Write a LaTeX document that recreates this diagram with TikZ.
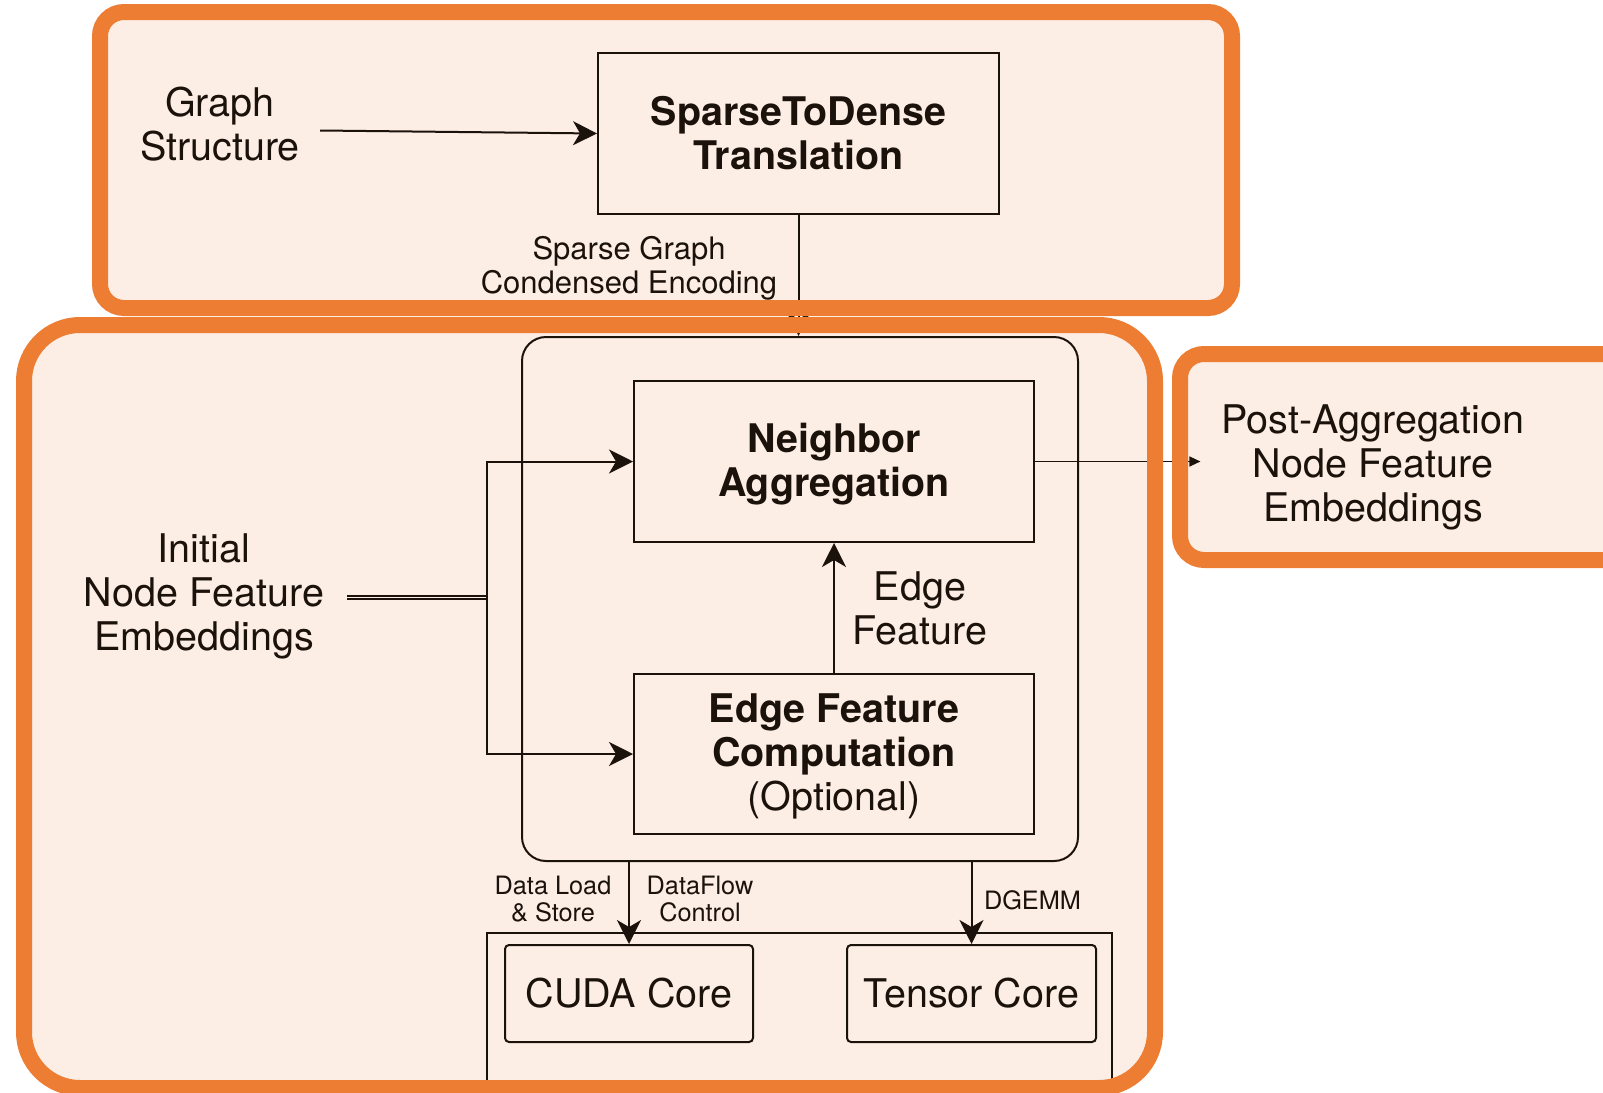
\documentclass[tikz,border=0pt]{standalone}
\usepackage{fontspec}
\setmainfont{TeX Gyre Heros}
\usetikzlibrary{arrows.meta,calc}
\definecolor{frameorange}{RGB}{237,125,50}
\definecolor{peach}{RGB}{252,238,229}
\definecolor{ink}{RGB}{28,18,12}
\tikzset{
  bigtxt/.style={font=\fontsize{39.5}{44}\selectfont, text=ink, align=center, inner sep=0pt},
  midtxt/.style={font=\fontsize{31}{34}\selectfont, text=ink, align=center, inner sep=0pt},
  smalltxt/.style={font=\fontsize{25.3}{27}\selectfont, text=ink, align=center, inner sep=0pt},
  blockbox/.style={draw=ink, line width=2pt, inner sep=0pt, align=center, text=ink},
  arr/.style={draw=ink, line width=2pt, -{Stealth[length=24pt,width=24pt,inset=7pt]}},
  thinarr/.style={draw=ink, line width=1.5pt, -{Triangle[length=11pt,width=10pt]}},
  dbl/.style={draw=ink, line width=2.1pt, double=peach, double distance=0.8pt},
  frame/.style={draw=frameorange, line width=16pt},
}
% extra height on a first line, to centre multi-line box text on its capitals
\newcommand{\capstrut}{\rule{0pt}{34.5pt}}
\begin{document}
\begin{tikzpicture}[x=1pt,y=-1pt]
\useasboundingbox (0,0) rectangle (1603,1092);
\clip (0,0) rectangle (1603,1092);

% panel backgrounds
\fill[peach, rounded corners=24pt] (100,12) rectangle (1232,308);
\fill[peach, rounded corners=56pt] (24,325) rectangle (1155,1088);
\fill[peach, rounded corners=24pt] (1180,354) rectangle (1640,560);

% preprocessing stage
\node[bigtxt, anchor=north] (gs) at (220,87) {Graph\\Structure};
\node[blockbox, font=\fontsize{39.4}{44}\selectfont\bfseries,
      minimum width=401pt, minimum height=161pt] (sd) at (798.5,133.5)
      {SparseToDense\\Translation};
\node[midtxt, anchor=north] (sgce) at (629,236) {Sparse Graph\\Condensed Encoding};

% aggregation kernel
\node[draw=ink, line width=2pt, rounded corners=24pt,
      minimum width=556pt, minimum height=524pt] (proc) at (800,599) {};
\node[blockbox, font=\fontsize{39.4}{44}\selectfont\bfseries,
      minimum width=400pt, minimum height=161pt] (na) at (834,461.5)
      {\capstrut Neighbor\\Aggregation};
\node[blockbox, font=\fontsize{39.5}{44}\selectfont,
      minimum width=400pt, minimum height=160pt] (ef) at (834,754)
      {\capstrut\textbf{Edge Feature}\\\textbf{Computation}\\(Optional)};
\node[bigtxt, anchor=north] (eflbl) at (920,571) {Edge\\Feature};
\node[bigtxt, anchor=north] (init) at (204,533.5) {Initial\\Node Feature\\Embeddings};
\node[bigtxt, anchor=north] (post) at (1373,404.5) {Post-Aggregation\\Node Feature\\Embeddings};

% hardware units
\node[draw=ink, line width=2pt, minimum width=625pt, minimum height=167pt] (hw) at (799.5,1016.5) {};
\node[blockbox, rounded corners=4pt, font=\fontsize{39.5}{44}\selectfont,
      minimum width=248pt, minimum height=97pt] (cuda) at (629,993.5) {CUDA Core};
\node[blockbox, rounded corners=4pt, font=\fontsize{39.5}{44}\selectfont,
      minimum width=249pt, minimum height=97pt] (tensor) at (971.5,993.5) {Tensor Core};
\node[smalltxt, anchor=north] (dls) at (553,876) {Data Load\\\& Store};
\node[smalltxt, anchor=north] (dfc) at (700,876) {DataFlow\\Control};
\node[smalltxt, anchor=north] (dgemm) at (1032.5,890.5) {DGEMM};

% connectors
\draw[arr] ($(gs.east |- sd.west)+(20,-3)$) -- (sd.west);
\draw[arr] (sd.south) -- (sd.south |- proc.north);
\coordinate (fork) at (487,597.5);
\draw[dbl] ($(init.east |- fork)+(23,0)$) -- (fork);
\draw[arr] (fork) |- (na.west);
\draw[arr] (fork) |- (ef.west);
\draw[arr] (ef.north) -- (na.south);
\draw[thinarr] (na.east) -- ($(post.west |- na.east)+(-21,0)$);
\draw[arr] (proc.south -| cuda.north) -- (cuda.north);
\draw[arr] (proc.south -| tensor.north) -- (tensor.north);

% orange panel frames on top
\draw[frame, rounded corners=24pt] (100,12) rectangle (1232,308);
\draw[frame, rounded corners=56pt] (24,325) rectangle (1155,1088);
\draw[frame, rounded corners=24pt] (1180,354) rectangle (1640,560);
\end{tikzpicture}
\end{document}
